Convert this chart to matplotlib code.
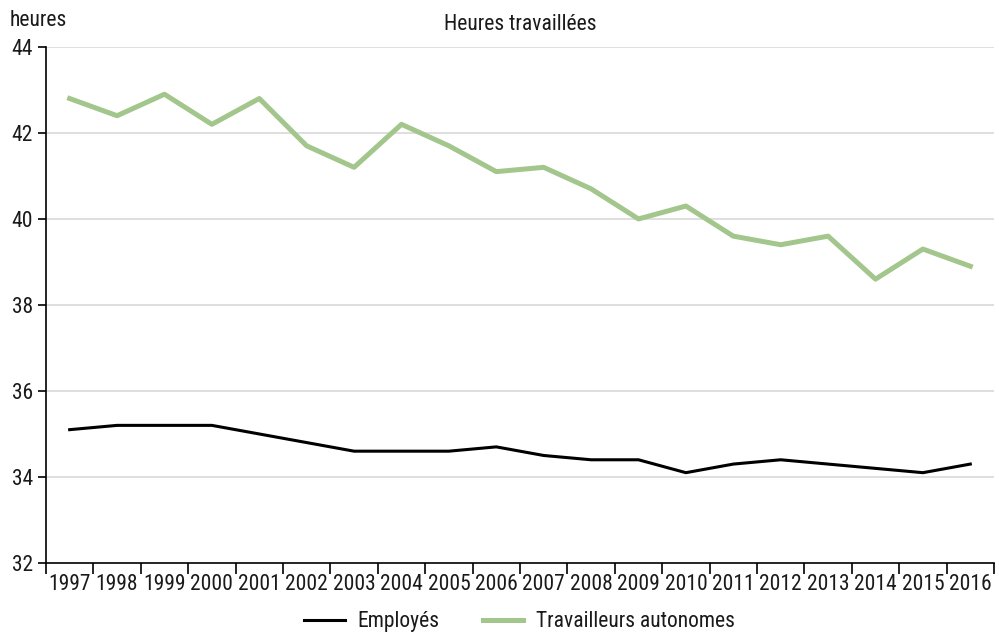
import numpy as np
import matplotlib.pyplot as plt
from matplotlib import font_manager

dispo = set(f.name for f in font_manager.fontManager.ttflist)
police = 'DejaVu Sans'
for nom in ['Roboto Condensed', 'Archivo Narrow', 'PT Sans Narrow', 'Liberation Sans Narrow', 'Liberation Sans']:
    if nom in dispo:
        police = nom
        break
plt.rcParams['font.family'] = [police, 'DejaVu Sans']
plt.rcParams['text.color'] = '#1a1a1a'
plt.rcParams['xtick.color'] = '#1a1a1a'
plt.rcParams['ytick.color'] = '#1a1a1a'

annees = [str(a) for a in range(1997, 2017)]
employes = [35.1, 35.2, 35.2, 35.2, 35.0, 34.8, 34.6, 34.6, 34.6, 34.7,
            34.5, 34.4, 34.4, 34.1, 34.3, 34.4, 34.3, 34.2, 34.1, 34.3]
autonomes = [42.8, 42.4, 42.9, 42.2, 42.8, 41.7, 41.2, 42.2, 41.7, 41.1,
             41.2, 40.7, 40.0, 40.3, 39.6, 39.4, 39.6, 38.6, 39.3, 38.9]

fig = plt.figure(figsize=(9.99, 6.34), dpi=100)
ax = fig.add_axes([0.046, 0.112, 0.949, 0.814])

x = np.arange(len(annees))
ax.plot(x, employes, color="black", linewidth=2.2, label="Employés")
ax.plot(x, autonomes, color="#a3c68c", linewidth=3.6, label="Travailleurs autonomes")

ax.set_xlim(-0.5, len(annees) - 0.5)
ax.set_ylim(32, 44)
ax.set_yticks(range(32, 45, 2))
ax.set_xticks(x)
ax.set_xticklabels(annees)
ax.set_xticks(np.arange(-0.5, len(annees)), minor=True)
ax.tick_params(axis='x', which='major', length=0, labelsize=15.5, pad=8)
ax.tick_params(axis='x', which='minor', length=8, width=1.2, direction='out', color='black')
ax.tick_params(axis='y', length=6, width=1.2, labelsize=15.5, color='black')

for v in range(34, 45, 2):
    ax.axhline(v, color="#d9d9d9", linewidth=1.2, zorder=0)

for s in ['top', 'right']:
    ax.spines[s].set_visible(False)
ax.spines['left'].set_linewidth(1.2)
ax.spines['bottom'].set_linewidth(1.2)

ax.set_title("Heures travaillées", fontsize=15.5, pad=12)
fig.text(0.01, 0.967, "heures", fontsize=15.5, va='center', ha='left')

fig.legend(loc='center', bbox_to_anchor=(0.52, 0.019), ncol=2, frameon=False,
           fontsize=15.5, handlelength=1.9, handletextpad=0.6, columnspacing=2.0)

fig.savefig("out.png", dpi=100)
